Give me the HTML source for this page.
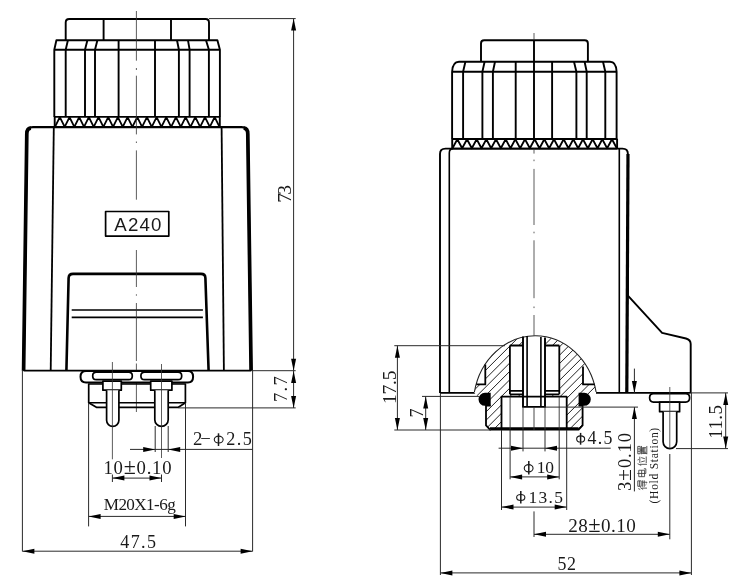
<!DOCTYPE html>
<html><head><meta charset="utf-8"><style>
html,body{margin:0;padding:0;background:#fff;}
svg{display:block;will-change:transform;}
</style></head><body>
<svg width="742" height="588" viewBox="0 0 742 588" stroke-linecap="butt" stroke-linejoin="round">
<rect width="742" height="588" fill="#fff"/>
<path d="M65.7,40.3 V22.5 Q65.7,19 69.2,19 H205.5 Q209,19 209,22.5 V40.3" stroke="#000" stroke-width="1.9" fill="none" />
<line x1="103.6" y1="19.5" x2="103.6" y2="40.3" stroke="#000" stroke-width="1.9"/>
<line x1="171" y1="19.5" x2="171" y2="40.3" stroke="#000" stroke-width="1.9"/>
<path d="M54.3,117 V49.7 L56.4,40.3 H217.4 L219.9,49.7 V117" stroke="#000" stroke-width="1.9" fill="none" />
<line x1="54.3" y1="49.7" x2="219.9" y2="49.7" stroke="#000" stroke-width="1.9"/>
<path d="M67.9,40.3 L65.7,49.7 V117" stroke="#000" stroke-width="1.9" fill="none" />
<path d="M87.4,40.3 L85,49.7 V117" stroke="#000" stroke-width="1.9" fill="none" />
<path d="M97.4,40.3 L95,49.7 V117" stroke="#000" stroke-width="1.9" fill="none" />
<path d="M118.6,40.3 L118.6,49.7 V117" stroke="#000" stroke-width="1.9" fill="none" />
<path d="M155,40.3 L155,49.7 V117" stroke="#000" stroke-width="1.9" fill="none" />
<path d="M177,40.3 L178.9,49.7 V117" stroke="#000" stroke-width="1.9" fill="none" />
<path d="M188,40.3 L189.6,49.7 V117" stroke="#000" stroke-width="1.9" fill="none" />
<path d="M206,40.3 L208.9,49.7 V117" stroke="#000" stroke-width="1.9" fill="none" />
<line x1="54.3" y1="116.9" x2="219.9" y2="116.9" stroke="#000" stroke-width="1.9"/>
<line x1="54.3" y1="127.1" x2="219.9" y2="127.1" stroke="#000" stroke-width="1.9"/>
<path d="M55,126.8 L59.84,117.2 L64.68,126.8 L69.51,117.2 L74.35,126.8 L79.19,117.2 L84.03,126.8 L88.87,117.2 L93.71,126.8 L98.54,117.2 L103.38,126.8 L108.22,117.2 L113.06,126.8 L117.90,117.2 L122.74,126.8 L127.57,117.2 L132.41,126.8 L137.25,117.2 L142.09,126.8 L146.93,117.2 L151.76,126.8 L156.60,117.2 L161.44,126.8 L166.28,117.2 L171.12,126.8 L175.96,117.2 L180.79,126.8 L185.63,117.2 L190.47,126.8 L195.31,117.2 L200.15,126.8 L204.99,117.2 L209.82,126.8 L214.66,117.2 L219.50,126.8" stroke="#000" stroke-width="1.8" fill="none" />
<line x1="54.7" y1="116.7" x2="54.7" y2="127.3" stroke="#000" stroke-width="1.9"/>
<line x1="219.8" y1="116.7" x2="219.8" y2="127.3" stroke="#000" stroke-width="1.9"/>
<path d="M23.6,370.7 L26.8,134 Q26.8,127.1 33,127.1 H241.5 Q247.8,127.1 247.8,134 L251.1,370.7" stroke="#000" stroke-width="2.3" fill="none" />
<path d="M23.6,370.7 L26.8,134 Q26.8,128.4 31,128.2" stroke="#000" stroke-width="3.7" fill="none" />
<path d="M251.1,370.7 L247.8,134 Q247.8,128.4 243.6,128.2" stroke="#000" stroke-width="3.7" fill="none" />
<line x1="23.6" y1="370.7" x2="251" y2="370.7" stroke="#000" stroke-width="1.7"/>
<line x1="53.8" y1="127.1" x2="50.7" y2="370.7" stroke="#000" stroke-width="1.8"/>
<line x1="221.6" y1="127.1" x2="223.9" y2="370.7" stroke="#000" stroke-width="1.8"/>
<path d="M66.4,370.7 L68.6,278 Q68.8,273.9 73,273.9 H201 Q205.3,273.9 205.4,278 L208.6,370.7" stroke="#000" stroke-width="2.6" fill="none" />
<line x1="71.7" y1="310" x2="202.9" y2="310" stroke="#000" stroke-width="1.7"/>
<line x1="71.7" y1="317.4" x2="202.9" y2="317.4" stroke="#000" stroke-width="1.7"/>
<rect x="105.6" y="211.5" width="63.2" height="24.6" fill="none" stroke="#000" stroke-width="1.7"/>
<line x1="136.4" y1="11" x2="136.4" y2="60.7" stroke="#333" stroke-width="0.8"/>
<line x1="136.4" y1="68" x2="136.4" y2="70" stroke="#333" stroke-width="0.8"/>
<line x1="136.4" y1="75.7" x2="136.4" y2="134.4" stroke="#333" stroke-width="0.8"/>
<line x1="136.4" y1="141.5" x2="136.4" y2="143" stroke="#333" stroke-width="0.8"/>
<line x1="136.4" y1="150.4" x2="136.4" y2="199.7" stroke="#333" stroke-width="0.8"/>
<line x1="136.4" y1="250" x2="136.4" y2="287" stroke="#333" stroke-width="0.8"/>
<line x1="136.4" y1="294.3" x2="136.4" y2="295.7" stroke="#333" stroke-width="0.8"/>
<line x1="136.4" y1="303" x2="136.4" y2="361" stroke="#333" stroke-width="0.8"/>
<line x1="136.4" y1="363.5" x2="136.4" y2="412" stroke="#333" stroke-width="0.8"/>
<path d="M86,371 H188 Q193.1,371 193.1,376.7 Q193.1,382.4 188,382.4 H86 Q80.5,382.4 80.5,376.7 Q80.5,371 86,371 Z" stroke="#000" stroke-width="2.0" fill="#fff" />
<path d="M96.4,372.2 H128.60000000000002 Q132.3,372.2 132.3,375.9 Q132.3,379.6 128.60000000000002,379.6 H96.4 Q92.7,379.6 92.7,375.9 Q92.7,372.2 96.4,372.2 Z" stroke="#000" stroke-width="1.7" fill="#fff" />
<path d="M144.6,372.2 H178.0 Q181.7,372.2 181.7,375.9 Q181.7,379.6 178.0,379.6 H144.6 Q140.9,379.6 140.9,375.9 Q140.9,372.2 144.6,372.2 Z" stroke="#000" stroke-width="1.7" fill="#fff" />
<path d="M88.7,384 H185.4 V402.8 L178.4,407.3 H96.4 L88.7,402.8 Z" stroke="#000" stroke-width="1.7" fill="none" />
<line x1="88.7" y1="402.8" x2="185.4" y2="402.8" stroke="#000" stroke-width="1.6"/>
<rect x="102.9" y="381.2" width="18.39999999999999" height="9" fill="#fff" stroke="#000" stroke-width="1.7"/>
<rect x="150.7" y="381.2" width="21.200000000000017" height="9" fill="#fff" stroke="#000" stroke-width="1.7"/>
<path d="M106.6,390.2 V420.25 A6.150000000000006,6.150000000000006 0 0 0 118.9,420.25 V390.2" stroke="#000" stroke-width="1.7" fill="#fff" />
<path d="M154.8,390.2 V419.7 A6.699999999999989,6.699999999999989 0 0 0 168.2,419.7 V390.2" stroke="#000" stroke-width="1.7" fill="#fff" />
<line x1="112.4" y1="362" x2="112.4" y2="459.3" stroke="#333" stroke-width="0.8"/>
<line x1="161.5" y1="364" x2="161.5" y2="458" stroke="#333" stroke-width="0.8"/>
<line x1="209" y1="18.6" x2="295.7" y2="18.6" stroke="#2a2a2a" stroke-width="1.0"/>
<line x1="293.6" y1="18.6" x2="293.6" y2="407.9" stroke="#2a2a2a" stroke-width="1.0"/>
<polygon points="293.60,18.60 291.10,30.60 296.10,30.60" fill="#000"/>
<polygon points="293.60,370.70 291.10,358.70 296.10,358.70" fill="#000"/>
<line x1="251" y1="370.7" x2="295.7" y2="370.7" stroke="#2a2a2a" stroke-width="1.0"/>
<line x1="178.4" y1="407.9" x2="295.7" y2="407.9" stroke="#2a2a2a" stroke-width="1.0"/>
<polygon points="293.60,370.90 291.10,382.90 296.10,382.90" fill="#000"/>
<polygon points="293.60,407.90 291.10,395.90 296.10,395.90" fill="#000"/>
<line x1="22.4" y1="370.7" x2="22.4" y2="551.4" stroke="#2a2a2a" stroke-width="1.0"/>
<line x1="252.6" y1="370.7" x2="252.6" y2="551.4" stroke="#2a2a2a" stroke-width="1.0"/>
<line x1="22.4" y1="551.2" x2="252.6" y2="551.2" stroke="#2a2a2a" stroke-width="1.0"/>
<polygon points="22.40,551.20 34.40,548.70 34.40,553.70" fill="#000"/>
<polygon points="252.60,551.20 240.60,548.70 240.60,553.70" fill="#000"/>
<line x1="88.6" y1="403" x2="88.6" y2="526.4" stroke="#2a2a2a" stroke-width="1.0"/>
<line x1="185.5" y1="403" x2="185.5" y2="526.4" stroke="#2a2a2a" stroke-width="1.0"/>
<line x1="88.6" y1="516.4" x2="185.7" y2="516.4" stroke="#2a2a2a" stroke-width="1.0"/>
<polygon points="88.60,516.40 100.60,513.90 100.60,518.90" fill="#000"/>
<polygon points="185.70,516.40 173.70,513.90 173.70,518.90" fill="#000"/>
<line x1="155.2" y1="426" x2="155.2" y2="452" stroke="#2a2a2a" stroke-width="1.0"/>
<line x1="168.2" y1="426" x2="168.2" y2="452" stroke="#2a2a2a" stroke-width="1.0"/>
<line x1="130" y1="449.4" x2="252.6" y2="449.4" stroke="#2a2a2a" stroke-width="1.0"/>
<polygon points="155.20,449.40 143.20,446.90 143.20,451.90" fill="#000"/>
<polygon points="168.20,449.40 180.20,446.90 180.20,451.90" fill="#000"/>
<line x1="112.4" y1="474.5" x2="112.4" y2="482" stroke="#2a2a2a" stroke-width="1.0"/>
<line x1="161.5" y1="474.5" x2="161.5" y2="482" stroke="#2a2a2a" stroke-width="1.0"/>
<line x1="112.4" y1="478.1" x2="161.5" y2="478.1" stroke="#2a2a2a" stroke-width="1.0"/>
<polygon points="112.40,478.10 124.40,475.60 124.40,480.60" fill="#000"/>
<polygon points="161.50,478.10 149.50,475.60 149.50,480.60" fill="#000"/>
<path d="M481,61.7 V43.5 Q481,40.3 484.2,40.3 H584.7 Q587.9,40.3 587.9,43.5 V61.7" stroke="#000" stroke-width="1.9" fill="none" />
<line x1="534" y1="33" x2="534" y2="40" stroke="#333" stroke-width="0.8"/>
<line x1="534" y1="40.3" x2="534" y2="61.7" stroke="#000" stroke-width="1.9"/>
<path d="M452.1,139 V71.7 Q452.6,61.7 459,61.7 H610 Q616.2,61.7 616.6,71.7 V139" stroke="#000" stroke-width="1.9" fill="none" />
<line x1="452.1" y1="71.7" x2="616.6" y2="71.7" stroke="#000" stroke-width="1.9"/>
<path d="M465.4,61.7 L463.1,71.7 V139" stroke="#000" stroke-width="1.9" fill="none" />
<path d="M484.6,61.7 L482.4,71.7 V139" stroke="#000" stroke-width="1.9" fill="none" />
<path d="M495,61.7 L492.9,71.7 V139" stroke="#000" stroke-width="1.9" fill="none" />
<path d="M515.7,61.7 L515.7,71.7 V139" stroke="#000" stroke-width="1.9" fill="none" />
<path d="M534,61.7 L534,71.7 V139" stroke="#000" stroke-width="1.9" fill="none" />
<path d="M552.1,61.7 L552.1,71.7 V139" stroke="#000" stroke-width="1.9" fill="none" />
<path d="M574,61.7 L576.4,71.7 V139" stroke="#000" stroke-width="1.9" fill="none" />
<path d="M584.6,61.7 L586.7,71.7 V139" stroke="#000" stroke-width="1.9" fill="none" />
<path d="M603,61.7 L605.3,71.7 V139" stroke="#000" stroke-width="1.9" fill="none" />
<line x1="452.1" y1="139" x2="617.1" y2="139" stroke="#000" stroke-width="1.9"/>
<line x1="452.1" y1="148.6" x2="617.1" y2="148.6" stroke="#000" stroke-width="1.9"/>
<path d="M452.5,148.3 L457.33,139.3 L462.16,148.3 L467.00,139.3 L471.83,148.3 L476.66,139.3 L481.49,148.3 L486.33,139.3 L491.16,148.3 L495.99,139.3 L500.82,148.3 L505.66,139.3 L510.49,148.3 L515.32,139.3 L520.15,148.3 L524.99,139.3 L529.82,148.3 L534.65,139.3 L539.48,148.3 L544.31,139.3 L549.15,148.3 L553.98,139.3 L558.81,148.3 L563.64,139.3 L568.48,148.3 L573.31,139.3 L578.14,148.3 L582.97,139.3 L587.81,148.3 L592.64,139.3 L597.47,148.3 L602.30,139.3 L607.14,148.3 L611.97,139.3 L616.80,148.3" stroke="#000" stroke-width="1.8" fill="none" />
<line x1="452.2" y1="138.8" x2="452.2" y2="148.8" stroke="#000" stroke-width="1.9"/>
<line x1="617.0999999999999" y1="138.8" x2="617.0999999999999" y2="148.8" stroke="#000" stroke-width="1.9"/>
<path d="M440,392.9 V154 Q440,148.6 445.5,148.6 H622.5 Q627.9,148.6 627.9,154 L627.9,295.7" stroke="#000" stroke-width="1.9" fill="none" />
<line x1="628" y1="154" x2="626.8" y2="392.9" stroke="#000" stroke-width="3.2"/>
<path d="M449.3,392.9 V153 Q449.3,148.6 453,148.6" stroke="#000" stroke-width="1.6" fill="none" />
<path d="M619.3,392.9 V148.6" stroke="#000" stroke-width="1.6" fill="none" />
<path d="M627.9,295.7 L662.1,332.9 L686,338.5 Q690.7,339.8 690.7,344 V392.9" stroke="#000" stroke-width="1.9" fill="none" />
<line x1="440" y1="392.9" x2="481" y2="392.9" stroke="#000" stroke-width="1.9"/>
<line x1="596" y1="392.9" x2="690.7" y2="392.9" stroke="#000" stroke-width="1.9"/>
<line x1="690.7" y1="392.9" x2="728" y2="392.9" stroke="#2a2a2a" stroke-width="1.0"/>
<line x1="534" y1="148.6" x2="534" y2="153.6" stroke="#333" stroke-width="0.8"/>
<line x1="534" y1="159.6" x2="534" y2="161.2" stroke="#333" stroke-width="0.8"/>
<line x1="534" y1="168.9" x2="534" y2="225" stroke="#333" stroke-width="0.8"/>
<line x1="534" y1="231.7" x2="534" y2="233.3" stroke="#333" stroke-width="0.8"/>
<line x1="534" y1="240.3" x2="534" y2="298.2" stroke="#333" stroke-width="0.8"/>
<line x1="534" y1="306.5" x2="534" y2="308.1" stroke="#333" stroke-width="0.8"/>
<line x1="534" y1="315" x2="534" y2="336" stroke="#333" stroke-width="0.8"/>
<defs><clipPath id="sec"><path d="M474.4,392 A62,69.5 0 0 1 596.1,392 L596.1,392.9 L582.6,405 V425.4 L578.6,429.6 H490 L486,425.4 V405 L474.4,392.9 Z"/></clipPath></defs>
<g clip-path="url(#sec)"><rect x="470" y="330" width="130" height="105" fill="#fff"/><path d="M48.30000000000001,480 L208.3,320 M56.69999999999999,480 L216.7,320 M65.10000000000002,480 L225.10000000000002,320 M73.5,480 L233.5,320 M81.89999999999998,480 L241.89999999999998,320 M90.30000000000001,480 L250.3,320 M98.69999999999999,480 L258.7,320 M107.10000000000002,480 L267.1,320 M115.5,480 L275.5,320 M123.89999999999998,480 L283.9,320 M132.3,480 L292.3,320 M140.7,480 L300.7,320 M149.1,480 L309.1,320 M157.5,480 L317.5,320 M165.9,480 L325.9,320 M174.3,480 L334.3,320 M182.7,480 L342.7,320 M191.1,480 L351.1,320 M199.5,480 L359.5,320 M207.9,480 L367.9,320 M216.3,480 L376.3,320 M224.70000000000002,480 L384.70000000000005,320 M233.1,480 L393.1,320 M241.5,480 L401.5,320 M249.9,480 L409.9,320 M258.3,480 L418.3,320 M266.7,480 L426.7,320 M275.1,480 L435.1,320 M283.5,480 L443.5,320 M291.9,480 L451.9,320 M300.3,480 L460.3,320 M308.7,480 L468.7,320 M317.1,480 L477.1,320 M325.5,480 L485.5,320 M333.9,480 L493.9,320 M342.3,480 L502.3,320 M350.7,480 L510.7,320 M359.1,480 L519.1,320 M367.5,480 L527.5,320 M375.90000000000003,480 L535.9000000000001,320 M384.3,480 L544.3,320 M392.7,480 L552.7,320 M401.1,480 L561.1,320 M409.5,480 L569.5,320 M417.90000000000003,480 L577.9000000000001,320 M426.3,480 L586.3,320 M434.70000000000005,480 L594.7,320 M443.1,480 L603.1,320 M451.5,480 L611.5,320 M459.90000000000003,480 L619.9000000000001,320 M468.3,480 L628.3,320 M476.70000000000005,480 L636.7,320 M485.1,480 L645.1,320 M493.5,480 L653.5,320 M501.90000000000003,480 L661.9000000000001,320 M510.3,480 L670.3,320 M518.7,480 L678.7,320 M527.1,480 L687.1,320 M535.5,480 L695.5,320 M543.9,480 L703.9,320 M552.3,480 L712.3,320 M560.7,480 L720.7,320 M569.1,480 L729.1,320 M577.5,480 L737.5,320 M585.9000000000001,480 L745.9000000000001,320 M594.3,480 L754.3,320 M602.7,480 L762.7,320 M611.1,480 L771.1,320 M619.5,480 L779.5,320 M627.9000000000001,480 L787.9000000000001,320 M636.3,480 L796.3,320 M644.7,480 L804.7,320 M653.1,480 L813.1,320 M661.5,480 L821.5,320 M669.9000000000001,480 L829.9000000000001,320 M678.3,480 L838.3,320 M686.7,480 L846.7,320 M695.1,480 L855.1,320 M703.5,480 L863.5,320 M711.9000000000001,480 L871.9000000000001,320 M720.3,480 L880.3,320 M728.7,480 L888.7,320 M737.1,480 L897.1,320 M745.5,480 L905.5,320 M753.9000000000001,480 L913.9000000000001,320 M762.3,480 L922.3,320 M770.7,480 L930.7,320 M779.1,480 L939.1,320 M787.5,480 L947.5,320 M795.9000000000001,480 L955.9000000000001,320 M804.3,480 L964.3,320 M812.7,480 L972.7,320 M821.1,480 L981.1,320 M829.5,480 L989.5,320 M837.9000000000001,480 L997.9000000000001,320 M846.3,480 L1006.3,320 M854.7,480 L1014.7,320 M863.1,480 L1023.1,320 M871.5,480 L1031.5,320 M879.9000000000001,480 L1039.9,320" stroke="#222" stroke-width="1.0"/>
<rect x="509.9" y="345.5" width="13.1" height="49" fill="#fff"/>
<rect x="545" y="345.5" width="14.3" height="49" fill="#fff"/>
<rect x="523" y="330" width="22" height="77" fill="#fff"/>
<rect x="501.5" y="396.6" width="65.2" height="33" fill="#fff"/>
<path d="M470,364.5 H485.3 V384.4 H470 Z" fill="#fff"/>
<path d="M583,366.5 H600 V384.4 H583 Z" fill="#fff"/>
</g>
<path d="M474.4,392 A62,69.5 0 0 1 596.1,392" stroke="#222" stroke-width="1.1" fill="none" />
<path d="M509.9,345.5 H523 M509.9,345.5 V394.3 M509.9,390.8 H523 M509.9,394.3 H523" stroke="#000" stroke-width="1.8" fill="none" />
<path d="M559.3,345.5 H545 M559.3,345.5 V394.3 M545,390.8 H559.3 M545,394.3 H559.3" stroke="#000" stroke-width="1.8" fill="none" />
<path d="M523,336.5 V406.9 H545 V337.5" stroke="#000" stroke-width="1.9" fill="none" />
<line x1="527.1" y1="336" x2="527.1" y2="406.9" stroke="#000" stroke-width="1.6"/>
<line x1="540.9" y1="337" x2="540.9" y2="406.9" stroke="#000" stroke-width="1.6"/>
<path d="M476.29,384.4 H485.3 V364.5" stroke="#000" stroke-width="1.8" fill="none" />
<path d="M594.71,384.4 H583 V366.5" stroke="#000" stroke-width="1.8" fill="none" />
<path d="M490.7,405.6 H486 V425.4 L490,429.6 H578.6 L582.6,425.4 V405.6 H578.6" stroke="#000" stroke-width="1.8" fill="none" />
<path d="M501.5,429.6 V396.6 H566.7 V429.6" stroke="#000" stroke-width="1.8" fill="none" />
<line x1="490" y1="428.6" x2="578.6" y2="428.6" stroke="#000" stroke-width="2.8"/>
<line x1="510.1" y1="396.6" x2="510.1" y2="429.6" stroke="#333" stroke-width="0.9"/>
<line x1="559.2" y1="396.6" x2="559.2" y2="429.6" stroke="#333" stroke-width="0.9"/>
<line x1="523" y1="406.9" x2="523" y2="429.6" stroke="#333" stroke-width="0.9"/>
<line x1="545" y1="406.9" x2="545" y2="429.6" stroke="#333" stroke-width="0.9"/>
<line x1="534" y1="406.9" x2="534" y2="430" stroke="#333" stroke-width="0.9"/>
<path d="M490.7,392.8 V405.8 H485 A6.5,6.5 0 0 1 485,392.8 Z" fill="#000"/>
<path d="M578.6,392.8 V405.8 H584.3 A6.5,6.5 0 0 0 584.3,392.8 Z" fill="#000"/>
<line x1="394.3" y1="345.7" x2="505" y2="345.7" stroke="#2a2a2a" stroke-width="1.0"/>
<line x1="394.3" y1="430" x2="491" y2="430" stroke="#2a2a2a" stroke-width="1.0"/>
<line x1="397.4" y1="345.7" x2="397.4" y2="430" stroke="#2a2a2a" stroke-width="1.0"/>
<polygon points="397.40,345.70 394.90,357.70 399.90,357.70" fill="#000"/>
<polygon points="397.40,430.00 394.90,418.00 399.90,418.00" fill="#000"/>
<line x1="422" y1="396.4" x2="479" y2="396.4" stroke="#2a2a2a" stroke-width="1.0"/>
<line x1="425.7" y1="396.4" x2="425.7" y2="430" stroke="#2a2a2a" stroke-width="1.0"/>
<polygon points="425.70,396.40 423.20,408.40 428.20,408.40" fill="#000"/>
<polygon points="425.70,430.00 423.20,418.00 428.20,418.00" fill="#000"/>
<line x1="440.4" y1="393" x2="440.4" y2="575" stroke="#2a2a2a" stroke-width="1.0"/>
<line x1="691.4" y1="393" x2="691.4" y2="575" stroke="#2a2a2a" stroke-width="1.0"/>
<line x1="440.4" y1="572.9" x2="691.4" y2="572.9" stroke="#2a2a2a" stroke-width="1.0"/>
<polygon points="440.40,572.90 452.40,570.40 452.40,575.40" fill="#000"/>
<polygon points="691.40,572.90 679.40,570.40 679.40,575.40" fill="#000"/>
<line x1="501.5" y1="430" x2="501.5" y2="510" stroke="#2a2a2a" stroke-width="1.0"/>
<line x1="510.1" y1="430" x2="510.1" y2="479.3" stroke="#2a2a2a" stroke-width="1.0"/>
<line x1="523" y1="430" x2="523" y2="451.4" stroke="#2a2a2a" stroke-width="1.0"/>
<line x1="545" y1="430" x2="545" y2="451.4" stroke="#2a2a2a" stroke-width="1.0"/>
<line x1="559.2" y1="430" x2="559.2" y2="479.3" stroke="#2a2a2a" stroke-width="1.0"/>
<line x1="566.7" y1="430" x2="566.7" y2="510" stroke="#2a2a2a" stroke-width="1.0"/>
<line x1="498.6" y1="448.2" x2="610.7" y2="448.2" stroke="#2a2a2a" stroke-width="1.0"/>
<polygon points="523.00,448.20 511.00,445.70 511.00,450.70" fill="#000"/>
<polygon points="545.00,448.20 557.00,445.70 557.00,450.70" fill="#000"/>
<line x1="510.1" y1="476.9" x2="559.2" y2="476.9" stroke="#2a2a2a" stroke-width="1.0"/>
<polygon points="510.10,476.90 522.10,474.40 522.10,479.40" fill="#000"/>
<polygon points="559.20,476.90 547.20,474.40 547.20,479.40" fill="#000"/>
<line x1="501.5" y1="507.1" x2="566.7" y2="507.1" stroke="#2a2a2a" stroke-width="1.0"/>
<polygon points="501.50,507.10 513.50,504.60 513.50,509.60" fill="#000"/>
<polygon points="566.70,507.10 554.70,504.60 554.70,509.60" fill="#000"/>
<line x1="534" y1="511.4" x2="534" y2="537" stroke="#2a2a2a" stroke-width="1.0"/>
<line x1="669.8" y1="454" x2="669.8" y2="539.3" stroke="#2a2a2a" stroke-width="1.0"/>
<line x1="534" y1="534.3" x2="669.8" y2="534.3" stroke="#2a2a2a" stroke-width="1.0"/>
<polygon points="534.00,534.30 546.00,531.80 546.00,536.80" fill="#000"/>
<polygon points="669.80,534.30 657.80,531.80 657.80,536.80" fill="#000"/>
<line x1="634.4" y1="368.6" x2="634.4" y2="393" stroke="#2a2a2a" stroke-width="1.0"/>
<polygon points="634.40,393.00 631.90,381.00 636.90,381.00" fill="#000"/>
<line x1="544" y1="407.1" x2="638" y2="407.1" stroke="#2a2a2a" stroke-width="1.0"/>
<line x1="634.4" y1="407.1" x2="634.4" y2="491.4" stroke="#2a2a2a" stroke-width="1.0"/>
<polygon points="634.40,407.10 631.90,419.10 636.90,419.10" fill="#000"/>
<path d="M637.78,453.78 L637.78,446.42 M637.78,453.78 L640.21,453.78 M637.78,446.42 L640.21,446.42 M640.21,453.78 L640.21,446.42 M637.78,451.30 L640.21,451.30 M637.78,448.90 L640.21,448.90 M641.47,454.24 L641.47,445.96 M640.21,450.10 L642.34,450.10 M642.34,452.31 L642.34,447.71 M642.34,452.31 L646.03,452.31 M642.34,447.71 L646.03,447.71 M643.60,452.31 L643.60,447.71 M644.87,452.31 L644.87,447.71 M646.81,454.24 L646.81,445.96 M642.15,453.50 L646.81,453.50 M637.59,463.68 L641.18,465.42 M640.02,464.32 L647.00,464.32 M637.59,460.00 L638.85,459.44 M639.82,462.94 L639.82,456.68 M641.18,461.84 L644.87,460.92 M641.18,457.60 L644.87,458.71 M646.22,463.12 L646.22,456.50 M638.75,476.68 L638.75,470.24 M638.75,476.68 L644.57,476.68 M638.75,470.24 L644.57,470.24 M644.57,476.68 L644.57,470.24 M641.66,476.68 L641.66,470.24 M637.30,473.46 L645.84,473.46 M645.84,473.46 L645.84,468.77 M645.84,468.77 L643.90,468.77 M638.27,488.59 L640.21,489.50 M640.21,487.50 L643.12,489.50 M641.66,488.13 L647.00,488.13 M637.78,486.31 L637.78,480.85 M637.78,486.31 L641.18,486.31 M637.78,480.85 L641.18,480.85 M641.18,486.31 L641.18,480.85 M639.43,486.31 L639.43,480.85 M642.63,486.77 L642.63,480.40 M644.28,486.77 L644.28,480.40 M642.63,482.22 L647.00,482.22 M647.00,482.22 L646.42,483.31 M645.35,485.13 L646.32,484.40" stroke="#3a3a3a" stroke-width="0.85" fill="none"/>
<path d="M653.5,393.6 H685.7 Q689.6,393.6 689.6,397.85 Q689.6,402.1 685.7,402.1 H653.5 Q649.6,402.1 649.6,397.85 Q649.6,393.6 653.5,393.6 Z" stroke="#000" stroke-width="1.7" fill="#fff" />
<rect x="659.6" y="402.1" width="20" height="9.6" fill="#fff" stroke="#000" stroke-width="1.7"/>
<path d="M663.1,411.7 V441.8 A6.8,6.8 0 0 0 676.7,441.8 V411.7" stroke="#000" stroke-width="1.7" fill="#fff" />
<line x1="669.8" y1="387" x2="669.8" y2="448.6" stroke="#333" stroke-width="0.8"/>
<line x1="676" y1="448.6" x2="728" y2="448.6" stroke="#2a2a2a" stroke-width="1.0"/>
<line x1="725.7" y1="392.9" x2="725.7" y2="448.6" stroke="#2a2a2a" stroke-width="1.0"/>
<polygon points="725.70,392.90 723.20,404.90 728.20,404.90" fill="#000"/>
<polygon points="725.70,448.60 723.20,436.60 728.20,436.60" fill="#000"/>
<text x="114.25" y="230.5" font-family="Liberation Sans" font-size="18.69" fill="#1a1a1a" text-anchor="start" textLength="47.25" lengthAdjust="spacing" >A240</text>
<text x="290.72" y="202.75" font-family="Liberation Serif" font-size="19.45" fill="#1a1a1a" text-anchor="start" textLength="17.75" lengthAdjust="spacing" transform="rotate(-90 290.72 202.75)" >73</text>
<text x="287.02" y="402.0" font-family="Liberation Serif" font-size="18.64" fill="#1a1a1a" text-anchor="start" textLength="25.75" lengthAdjust="spacing" transform="rotate(-90 287.02 402.0)" >7.7</text>
<text x="120.25" y="548.25" font-family="Liberation Serif" font-size="18.06" fill="#1a1a1a" text-anchor="start" textLength="35.75" lengthAdjust="spacing" >47.5</text>
<text x="103.75" y="510.3" font-family="Liberation Serif" font-size="17.13" fill="#1a1a1a" text-anchor="start" textLength="72.0" lengthAdjust="spacing" >M20X1-6g</text>
<text x="193.0" y="445.0" font-family="Liberation Serif" font-size="18.75" fill="#1a1a1a" text-anchor="start" textLength="17.75" lengthAdjust="spacing" >2−</text>
<text x="226.25" y="444.75" font-family="Liberation Serif" font-size="18.21" fill="#1a1a1a" text-anchor="start" textLength="25.5" lengthAdjust="spacing" >2.5</text>
<text x="103.5" y="474.0" font-family="Liberation Serif" font-size="18.7" fill="#1a1a1a" text-anchor="start" textLength="68.0" lengthAdjust="spacing" >10<tspan font-size="118%">±</tspan>0.10</text>
<text x="396.2" y="404.0" font-family="Liberation Serif" font-size="19.61" fill="#1a1a1a" text-anchor="start" textLength="33.5" lengthAdjust="spacing" transform="rotate(-90 396.2 404.0)" >17.5</text>
<text x="423.05" y="417.57" font-family="Liberation Serif" font-size="17.96" fill="#1a1a1a" text-anchor="start" transform="rotate(-90 423.05 417.57)" >7</text>
<text x="587.5" y="443.75" font-family="Liberation Serif" font-size="17.86" fill="#1a1a1a" text-anchor="start" textLength="25.0" lengthAdjust="spacing" >4.5</text>
<text x="536.75" y="472.5" font-family="Liberation Serif" font-size="17.44" fill="#1a1a1a" text-anchor="start" textLength="17.25" lengthAdjust="spacing" >10</text>
<text x="528.5" y="502.5" font-family="Liberation Serif" font-size="17.44" fill="#1a1a1a" text-anchor="start" textLength="34.5" lengthAdjust="spacing" >13.5</text>
<text x="568.25" y="531.5" font-family="Liberation Serif" font-size="19.1" fill="#1a1a1a" text-anchor="start" textLength="67.5" lengthAdjust="spacing" >28<tspan font-size="118%">±</tspan>0.10</text>
<text x="557.5" y="569.75" font-family="Liberation Serif" font-size="17.91" fill="#1a1a1a" text-anchor="start" textLength="18.5" lengthAdjust="spacing" >52</text>
<text x="630.62" y="491.0" font-family="Liberation Serif" font-size="18.5" fill="#1a1a1a" text-anchor="start" textLength="58.0" lengthAdjust="spacing" transform="rotate(-90 630.62 491.0)" >3<tspan font-size="118%">±</tspan>0.10</text>
<text x="658.2" y="503.5" font-family="Liberation Serif" font-size="11.6" fill="#1a1a1a" text-anchor="start" textLength="75.75" lengthAdjust="spacing" transform="rotate(-90 658.2 503.5)" >(Hold Station)</text>
<text x="722.3" y="438.75" font-family="Liberation Serif" font-size="19.0" fill="#1a1a1a" text-anchor="start" textLength="33.75" lengthAdjust="spacing" transform="rotate(-90 722.3 438.75)" >11.5</text>
<ellipse cx="218.70" cy="439.60" rx="4.45" ry="3.45" fill="none" stroke="#1a1a1a" stroke-width="1.1"/>
<line x1="218.5" y1="433.3" x2="218.5" y2="446" stroke="#1a1a1a" stroke-width="1.5"/>
<ellipse cx="580.65" cy="438.95" rx="4.00" ry="3.10" fill="none" stroke="#1a1a1a" stroke-width="1.1"/>
<line x1="580.6" y1="432.9" x2="580.6" y2="444.7" stroke="#1a1a1a" stroke-width="1.5"/>
<ellipse cx="528.65" cy="468.25" rx="4.40" ry="3.60" fill="none" stroke="#1a1a1a" stroke-width="1.1"/>
<line x1="528.8" y1="460.9" x2="528.8" y2="474.6" stroke="#1a1a1a" stroke-width="1.5"/>
<ellipse cx="520.75" cy="497.40" rx="4.10" ry="2.95" fill="none" stroke="#1a1a1a" stroke-width="1.1"/>
<line x1="520.8" y1="491" x2="520.8" y2="503.5" stroke="#1a1a1a" stroke-width="1.5"/>
</svg></body></html>
